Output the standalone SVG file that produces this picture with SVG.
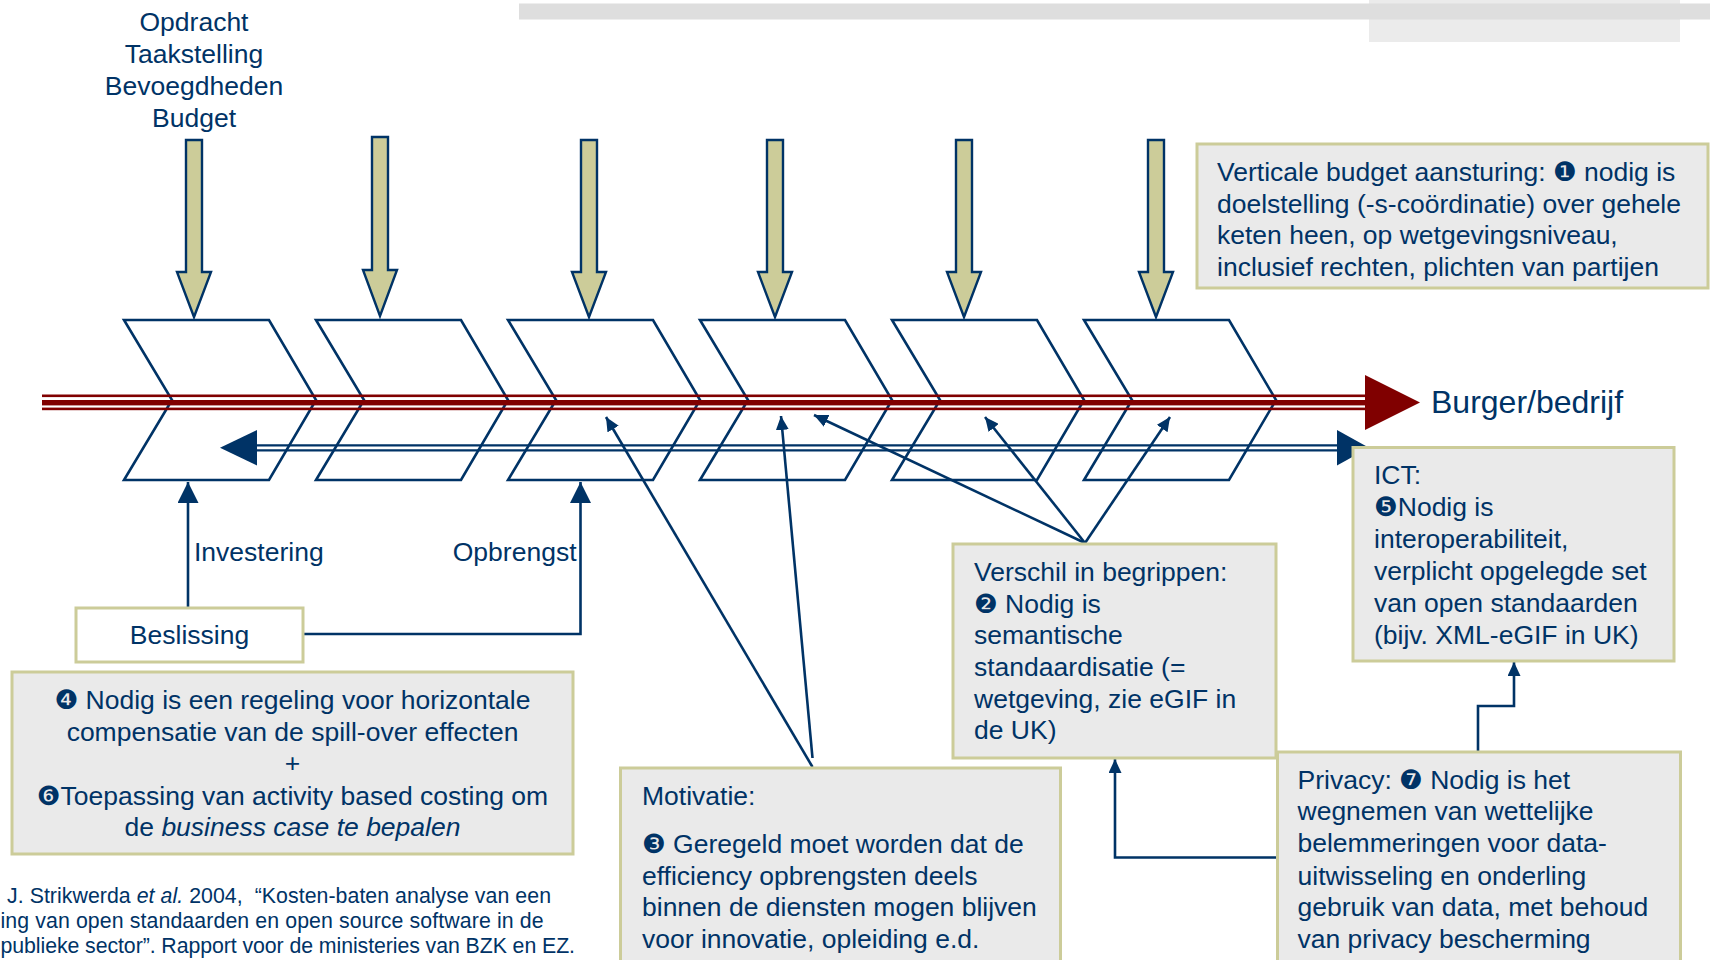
<svg xmlns="http://www.w3.org/2000/svg" width="1710" height="960" viewBox="0 0 1710 960">
<defs>
<style>
text{font-family:"Liberation Sans","DejaVu Sans",Arial,sans-serif;fill:#003366;font-size:26.5px}
.box{fill:#EAEAEA;stroke:#CCCC99;stroke-width:3}
.wbox{fill:#FFFFFF;stroke:#CCCC99;stroke-width:3}
.chev{fill:#FFFFFF;stroke:#003366;stroke-width:2.6;stroke-linejoin:miter}
.down{fill:#CCCC99;stroke:#003366;stroke-width:2.4}
.red{fill:#800000}
.con{fill:none;stroke:#003366;stroke-width:2.6}
.cite{font-size:21.3px;white-space:pre}
.mid{text-anchor:middle}
.end{text-anchor:end}
</style>
<marker id="ah" viewBox="0 0 14 13" refX="14" refY="6.5" markerWidth="14" markerHeight="13" markerUnits="userSpaceOnUse" orient="auto">
<path d="M0,0 L14,6.5 L0,13 z" fill="#003366"/>
</marker>
<marker id="ahl" viewBox="0 0 21 21" refX="21" refY="10.5" markerWidth="21" markerHeight="21" markerUnits="userSpaceOnUse" orient="auto">
<path d="M0,0 L21,10.5 L0,21 z" fill="#003366"/>
</marker>
</defs>

<g id="header-decor">
<rect x="1369" y="0" width="311" height="42" fill="#EBEBEB"/>
<rect x="519" y="3.5" width="1191" height="16" fill="#DEDEDE"/>
</g>

<g id="top-label">
<text class="mid" x="194" y="31">Opdracht</text>
<text class="mid" x="194" y="63">Taakstelling</text>
<text class="mid" x="194" y="95">Bevoegdheden</text>
<text class="mid" x="194" y="127">Budget</text>
</g>

<g id="chevrons">
<polygon class="chev" points="124,320 269,320 316,400 269,480 124,480 172,400"/>
<polygon class="chev" points="316,320 461,320 508,400 461,480 316,480 364,400"/>
<polygon class="chev" points="508,320 653,320 700,400 653,480 508,480 556,400"/>
<polygon class="chev" points="700,320 845,320 892,400 845,480 700,480 748,400"/>
<polygon class="chev" points="892,320 1037,320 1084,400 1037,480 892,480 940,400"/>
<polygon class="chev" points="1084,320 1229,320 1276,400 1229,480 1084,480 1132,400"/>
</g>

<g id="down-arrows">
<polygon class="down" points="186,140 202,140 202,272 211,272 194,317 177,272 186,272"/>
<polygon class="down" points="372,137 388,137 388,270 397,270 380,316 363,270 372,270"/>
<polygon class="down" points="581,140 597,140 597,272 606,272 589,317 572,272 581,272"/>
<polygon class="down" points="767,140 783,140 783,272 792,272 775,317 758,272 767,272"/>
<polygon class="down" points="956,140 972,140 972,272 981,272 964,317 947,272 956,272"/>
<polygon class="down" points="1148,140 1164,140 1164,272 1173,272 1156,317 1139,272 1148,272"/>
</g>

<g id="main-flow">
<rect class="red" x="42" y="394.5" width="1324" height="2.6"/>
<rect class="red" x="42" y="400" width="1324" height="5.4"/>
<rect class="red" x="42" y="407.6" width="1324" height="2.6"/>
<polygon class="red" points="1365,375 1420,402.5 1365,430"/>
<text x="1431" y="413" style="font-size:32px">Burger/bedrijf</text>
</g>

<g id="return-flow">
<line x1="255" y1="445.3" x2="1340" y2="445.3" stroke="#003366" stroke-width="2.2"/>
<line x1="255" y1="450.4" x2="1340" y2="450.4" stroke="#003366" stroke-width="2.2"/>
<polygon points="220,447.8 257,430 257,465.5" fill="#003366"/>
<polygon points="1337,430 1369,447.8 1337,465.5" fill="#003366"/>
</g>

<g id="connectors">
<path class="con" d="M812.5,767 L606,417" marker-end="url(#ah)"/>
<path class="con" d="M812.5,758 L781,416" marker-end="url(#ah)"/>
<path class="con" d="M1085,543 L814,415" marker-end="url(#ah)"/>
<path class="con" d="M1085,543 L985,417" marker-end="url(#ah)"/>
<path class="con" d="M1085,543 L1170,417" marker-end="url(#ah)"/>
<path class="con" d="M188,607 L188,482" marker-end="url(#ahl)"/>
<path class="con" d="M303,634 L580.5,634 L580.5,482" marker-end="url(#ahl)"/>
<path class="con" d="M1478,751 L1478,706 L1514,706 L1514,662" marker-end="url(#ah)"/>
<path class="con" d="M1277,857.5 L1115,857.5 L1115,759" marker-end="url(#ah)"/>
</g>

<g id="labels">
<text x="194" y="561">Investering</text>
<text class="end" x="576.5" y="561">Opbrengst</text>
</g>

<g id="vertical-budget">
<rect class="box" x="1197" y="144" width="511" height="144"/>
<text x="1217" y="181">Verticale budget aansturing: ❶ nodig is</text>
<text x="1217" y="212.5">doelstelling (-s-coördinatie) over gehele</text>
<text x="1217" y="244">keten heen, op wetgevingsniveau,</text>
<text x="1217" y="276">inclusief rechten, plichten van partijen</text>
</g>

<g id="ict">
<rect class="box" x="1353" y="447.5" width="321" height="213.5"/>
<text x="1374" y="484">ICT:</text>
<text x="1374" y="516">❺Nodig is</text>
<text x="1374" y="548">interoperabiliteit,</text>
<text x="1374" y="580">verplicht opgelegde set</text>
<text x="1374" y="612">van open standaarden</text>
<text x="1374" y="644">(bijv. XML-eGIF in UK)</text>
</g>

<g id="beslissing">
<rect class="wbox" x="76" y="608" width="227" height="54"/>
<text class="mid" x="189.5" y="644">Beslissing</text>
</g>

<g id="compensatie">
<rect class="box" x="12" y="672" width="561" height="182"/>
<text class="mid" x="292.5" y="709">❹ Nodig is een regeling voor horizontale</text>
<text class="mid" x="292.5" y="741">compensatie van de spill-over effecten</text>
<text class="mid" x="292.5" y="772">+</text>
<text class="mid" x="292.5" y="805">❻Toepassing van activity based costing om</text>
<text class="mid" x="292.5" y="836">de <tspan font-style="italic">business case te bepalen</tspan></text>
</g>

<g id="verschil">
<rect class="box" x="953" y="544" width="323" height="214"/>
<text x="974" y="581">Verschil in begrippen:</text>
<text x="974" y="612.5">❷ Nodig is</text>
<text x="974" y="644">semantische</text>
<text x="974" y="676">standaardisatie (=</text>
<text x="974" y="707.5">wetgeving, zie eGIF in</text>
<text x="974" y="739">de UK)</text>
</g>

<g id="motivatie">
<rect class="box" x="620.5" y="768" width="440" height="200"/>
<text x="642" y="805">Motivatie:</text>
<text x="642" y="852.5">❸ Geregeld moet worden dat de</text>
<text x="642" y="884.5">efficiency opbrengsten deels</text>
<text x="642" y="916">binnen de diensten mogen blijven</text>
<text x="642" y="948">voor innovatie, opleiding e.d.</text>
</g>

<g id="privacy">
<rect class="box" x="1277.5" y="752" width="403" height="216"/>
<text x="1297.5" y="788.5">Privacy: ❼ Nodig is het</text>
<text x="1297.5" y="820">wegnemen van wettelijke</text>
<text x="1297.5" y="852">belemmeringen voor data-</text>
<text x="1297.5" y="884.5">uitwisseling en onderling</text>
<text x="1297.5" y="916">gebruik van data, met behoud</text>
<text x="1297.5" y="947.5">van privacy bescherming</text>
</g>

<g id="citation">
<text class="cite" x="7" y="903" textLength="544" lengthAdjust="spacing">J. Strikwerda <tspan font-style="italic">et al.</tspan> 2004,  “Kosten-baten analyse van een</text>
<text class="cite" x="0.5" y="928" textLength="543" lengthAdjust="spacing">ing van open standaarden en open source software in de</text>
<text class="cite" x="0.5" y="953" textLength="574.5" lengthAdjust="spacing">publieke sector”. Rapport voor de ministeries van BZK en EZ.</text>
</g>
</svg>
